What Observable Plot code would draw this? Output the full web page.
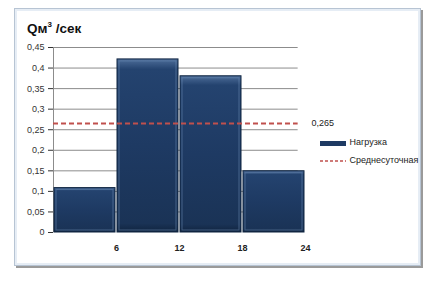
<!DOCTYPE html>
<html><head><meta charset="utf-8">
<script src="https://cdn.jsdelivr.net/npm/d3@7"></script>
<script src="https://cdn.jsdelivr.net/npm/@observablehq/plot@0.6"></script>
<style>
body{margin:0;background:#fff;font-family:"Liberation Sans",Arial,sans-serif;}
#wrap{position:relative;width:448px;height:304px;overflow:hidden;background:#fff;}
#frame{position:absolute;left:14px;top:8px;width:405px;height:256px;border:1px solid #b7c4d3;box-shadow:2px 2px 0 #9a9a9a, inset 0 0 0 2px #e6edf5;}
#title{position:absolute;left:27px;top:20px;font-size:13.5px;font-weight:bold;color:#111;}
#title sup{font-size:8px;}
#plot{position:absolute;left:0;top:0;}
.leg{position:absolute;font-size:9px;color:#222;}
</style></head>
<body><div id="wrap"><div id="frame"></div><div id="plot"></div>
<div id="title">Qм<sup>3</sup> /сек</div>
<div class="leg" style="left:320px;top:137px;"><svg width="27" height="10" style="vertical-align:middle"><rect x="0" y="3" width="26" height="5" fill="#1e3a63"/></svg> Нагрузка</div>
<div class="leg" style="left:320px;top:155px;"><svg width="27" height="10" style="vertical-align:middle"><line x1="0" x2="26" y1="5" y2="5" stroke="#c0504d" stroke-width="1.5" stroke-dasharray="3,2"/></svg> Среднесуточная</div>
</div>
<script>
const starts = [0, 6, 12, 18];
const ends = [6, 12, 18, 24];
const load = [0.108, 0.421, 0.38, 0.149];
const meanValue = 0.265;
const yTicks = [0, 0.05, 0.1, 0.15, 0.2, 0.25, 0.3, 0.35, 0.4, 0.45];
const xTicks = [6, 12, 18, 24];

const bars = starts.map((s, i) => ({x1: s, x2: ends[i], y: load[i]}));
const fmt = d => String(d).replace(".", ",");

const chart = Plot.plot({
  width: 448, height: 304,
  marginLeft: 53, marginRight: 143, marginTop: 47, marginBottom: 72,
  style: {fontFamily: "Liberation Sans, Arial, sans-serif", fontSize: "9px", color: "#333", background: "transparent"},
  x: {domain: [0, 24], ticks: xTicks, tickSize: 0, tickPadding: 12, label: null, tickFormat: d => d},
  y: {domain: [0, 0.45], ticks: yTicks, tickSize: 5, tickPadding: 4, label: null, tickFormat: fmt},
  marks: [
    Plot.gridY(yTicks.filter(d => d > 0), {stroke: "#8c8c8c", strokeOpacity: 1, strokeWidth: 1, x1: 0, x2: 23.3}),
    Plot.ruleX([0], {stroke: "#8c8c8c"}),
    Plot.rect(bars, {x1: "x1", x2: "x2", y1: 0, y2: "y", fill: "url(#barGrad)", stroke: "#0f2440", strokeWidth: 1, insetLeft: 1, insetRight: 1}),
    Plot.rect(bars, {x1: "x1", x2: "x2", y1: 0, y2: "y", fill: "none", stroke: "#6f8fb8", strokeWidth: 1, strokeOpacity: 0.5, insetLeft: 3, insetRight: 3, insetTop: 2, insetBottom: 2}),
    Plot.ruleY([meanValue], {x1: 0, x2: 23.3, stroke: "#c0504d", strokeWidth: 2, strokeDasharray: "5,3"}),
    Plot.text([meanValue], {x: 24, y: d => d, text: d => fmt(d), dx: 6, textAnchor: "start", fill: "#222", fontSize: 9}),
    Plot.axisX({ticks: xTicks, tickSize: 0, tickPadding: 12, fontWeight: "bold", fill: "#222", label: null}),
  ]
});
document.getElementById("plot").appendChild(chart);
const svg = d3.select(chart);
const defs = svg.insert("defs", ":first-child");
const g = defs.append("linearGradient").attr("id", "barGrad").attr("x1", 0).attr("y1", 0).attr("x2", 0).attr("y2", 1);
[[0, "#4d6d99"], [0.06, "#24436f"], [0.5, "#1e3a63"], [0.95, "#1a3356"], [1, "#10243f"]].forEach(([o, c]) =>
  g.append("stop").attr("offset", o).attr("stop-color", c));
</script>
</body></html>
